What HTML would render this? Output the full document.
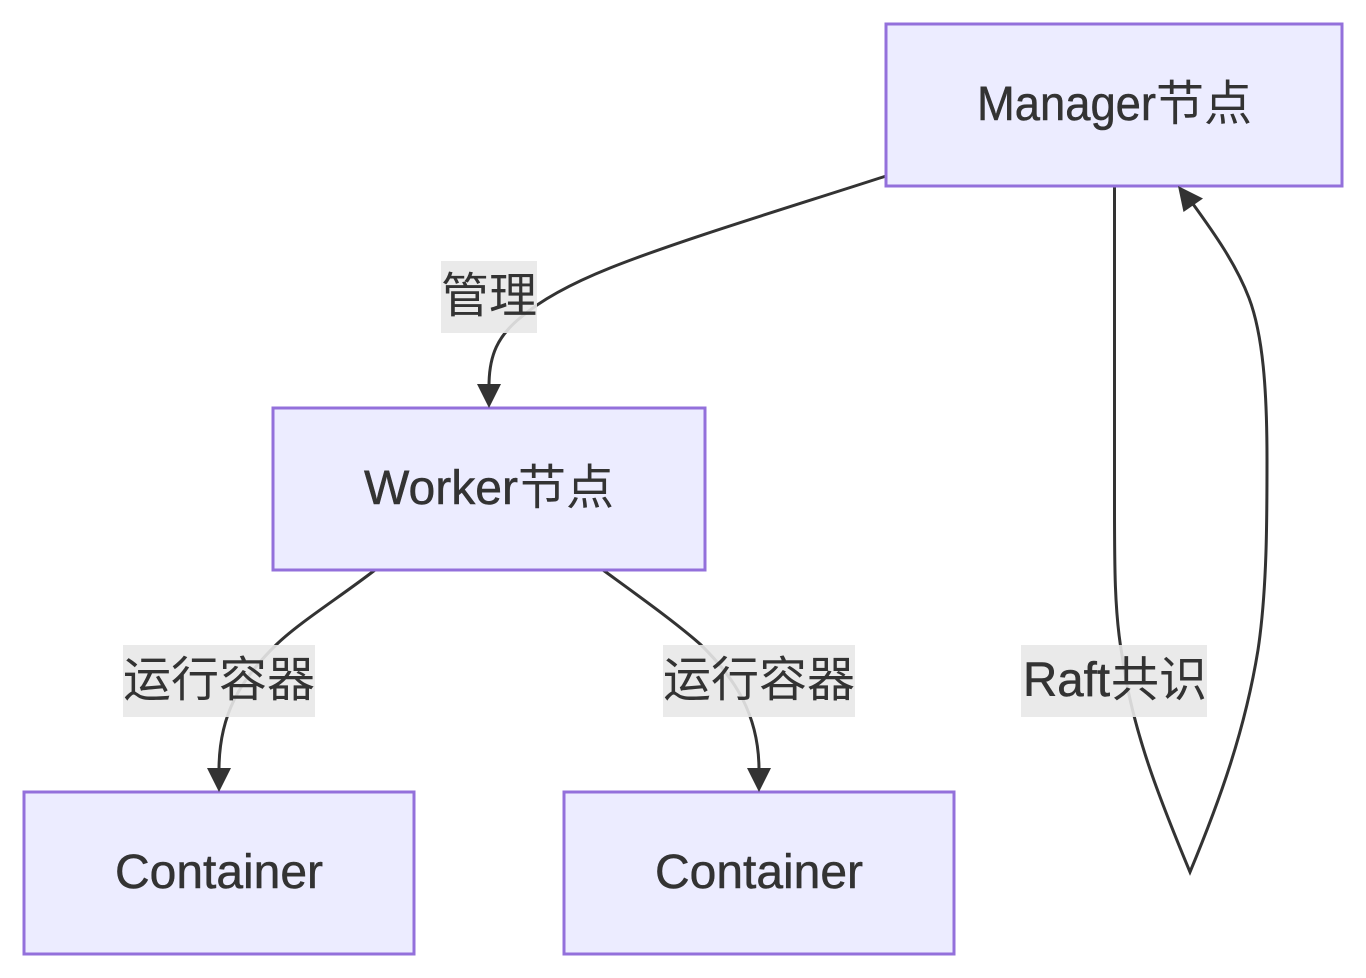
<!DOCTYPE html>
<html lang="zh">
<head>
<meta charset="utf-8">
<title>Diagram</title>
<style>
html,body{margin:0;padding:0;background:#fff;width:1366px;height:978px;overflow:hidden}
svg{display:block}
.n{fill:#ECECFF;stroke:#9370DB;stroke-width:3}
.e{fill:none;stroke:#333;stroke-width:3}
.a{fill:#333}
.l{fill:rgba(232,232,232,.9)}
text{fill:#333;font-size:48px;font-family:"Liberation Sans","Noto Sans CJK SC",sans-serif}
.t{stroke:#333;stroke-width:.5px}
.c{font-family:"Noto Sans CJK SC","WenQuanYi Zen Hei",sans-serif}
</style>
</head>
<body>
<svg width="1366" height="978" viewBox="0 0 1366 978" xmlns="http://www.w3.org/2000/svg">
  <rect width="1366" height="978" fill="#fff"/>

  <!-- edges -->
  <path class="e" d="M886,176 C800,204 680,240 610,268 C560,288 535,305 520,318 C498,336 489,355 489,386"/>
  <path class="e" d="M375,570 C340,597 300,622 277,644 C240,680 219,715 219,770"/>
  <path class="e" d="M603,570 C640,597 675,622 700,644 C735,678 759,715 759,770"/>
  <path class="e" d="M1114.5,186 L1114.5,488 C1114.5,560 1114,610 1122,655 C1132,730 1160,800 1190,872 C1220,800 1245,730 1258,650 C1267,590 1267,520 1267,460 C1267,390 1263,335 1249,298 C1236,264 1214,233 1193,204"/>

  <!-- nodes -->
  <rect class="n" x="886" y="24" width="456" height="162"/>
  <rect class="n" x="273" y="408" width="432" height="162"/>
  <rect class="n" x="24" y="792" width="390" height="162"/>
  <rect class="n" x="564" y="792" width="390" height="162"/>

  <!-- arrowheads -->
  <polygon class="a" points="477,384 501,384 489,408"/>
  <polygon class="a" points="207,768 231,768 219,792"/>
  <polygon class="a" points="747,768 771,768 759,792"/>
  <polygon class="a" points="1178,186 1203,198.5 1183.5,212"/>

  <!-- edge labels -->
  <rect class="l" x="441" y="261" width="96" height="72"/>
  <rect class="l" x="123" y="645" width="192" height="72"/>
  <rect class="l" x="663" y="645" width="192" height="72"/>
  <rect class="l" x="1021" y="645" width="186" height="72"/>

  <text class="c" x="441" y="312">管理</text>
  <text class="c" x="123" y="696">运行容器</text>
  <text class="c" x="663" y="696">运行容器</text>
  <text class="t" x="1023" y="696" textLength="87" lengthAdjust="spacingAndGlyphs">Raft</text>
  <text class="c" x="1111" y="696">共识</text>

  <!-- node labels -->
  <text class="t" x="977" y="120" textLength="179" lengthAdjust="spacingAndGlyphs">Manager</text>
  <text class="c" x="1156" y="120">节点</text>
  <text class="t" x="364" y="504" textLength="154" lengthAdjust="spacingAndGlyphs">Worker</text>
  <text class="c" x="518" y="504">节点</text>
  <text class="t" x="115" y="888" textLength="208" lengthAdjust="spacingAndGlyphs">Container</text>
  <text class="t" x="655" y="888" textLength="208" lengthAdjust="spacingAndGlyphs">Container</text>
</svg>
</body>
</html>
